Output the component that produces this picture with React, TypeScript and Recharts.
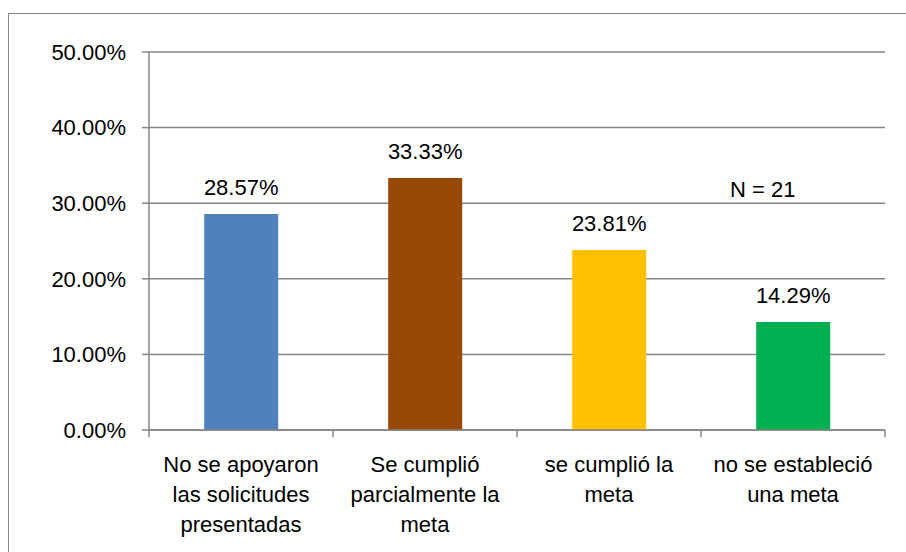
import { BarChart, Bar, XAxis, YAxis, CartesianGrid, Cell, LabelList } from 'recharts';

const categories = [
  ['No se apoyaron', 'las solicitudes', 'presentadas'],
  ['Se cumplió', 'parcialmente la', 'meta'],
  ['se cumplió la', 'meta'],
  ['no se estableció', 'una meta'],
];
const shares = [0.2857, 0.3333, 0.2381, 0.1429];
const barColors = ['#4F81BD', '#984807', '#FFC000', '#00B050'];
const yTicks = [0, 0.1, 0.2, 0.3, 0.4, 0.5];
const note = 'N = 21';

const W = 906;
const H = 552;
const margin = { top: 52, right: 21, left: 0, bottom: 22 };
const yAxisWidth = 149;
const axisColor = '#868686';
const font = '"Liberation Sans", Arial, sans-serif';

const data = categories.map((lines, i) => ({ name: lines.join(' '), lines, value: shares[i] }));
const band = (W - margin.left - yAxisWidth - margin.right) / categories.length;

const pct = (v: number) => `${(v * 100).toFixed(2)}%`;

const CategoryTick = (props: any) => {
  const { x, y, payload, index } = props;
  const lines: string[] = data[index]?.lines ?? [payload.value];
  return (
    <g>
      <line x1={x - band / 2} x2={x - band / 2} y1={y - 8} y2={y - 1} stroke={axisColor} strokeWidth={1.5} />
      {index === categories.length - 1 && (
        <line x1={x + band / 2} x2={x + band / 2} y1={y - 8} y2={y - 1} stroke={axisColor} strokeWidth={1.5} />
      )}
      <text x={x} y={y} textAnchor="middle" fill="#000" fontSize={22} fontFamily={font}>
        {lines.map((l, i) => (
          <tspan key={i} x={x} dy={i === 0 ? 34 : 30}>
            {l}
          </tspan>
        ))}
      </text>
    </g>
  );
};

export default function App() {
  return (
    <div style={{ position: 'absolute', left: 0, top: 0, width: W, height: H, overflow: 'hidden', background: '#fff' }}>
      <div
        style={{
          position: 'absolute',
          left: 8,
          top: 13,
          width: W,
          height: H,
          border: `1.5px solid ${axisColor}`,
        }}
      />
      <div style={{ position: 'absolute', left: 0, top: 0 }}>
        <BarChart width={W} height={H} data={data} margin={margin} barCategoryGap="30%">
          <CartesianGrid horizontal vertical={false} stroke={axisColor} strokeWidth={1.5} />
          <XAxis
            dataKey="name"
            interval={0}
            height={100}
            axisLine={{ stroke: axisColor, strokeWidth: 1.5 }}
            tickLine={false}
            tick={<CategoryTick />}
          />
          <YAxis
            width={yAxisWidth}
            domain={[0, 0.5]}
            ticks={yTicks}
            tickFormatter={pct}
            axisLine={{ stroke: axisColor, strokeWidth: 1.5 }}
            tickLine={{ stroke: axisColor, strokeWidth: 1.5 }}
            tickSize={7}
            tickMargin={16}
            tick={{ fill: '#000', fontSize: 22, fontFamily: font }}
          />
          <Bar dataKey="value" isAnimationActive={false}>
            {data.map((d, i) => (
              <Cell key={d.name} fill={barColors[i]} />
            ))}
            <LabelList
              dataKey="value"
              position="top"
              offset={19}
              formatter={(v: any) => pct(Number(v))}
              style={{ fill: '#000', fontSize: 22, fontFamily: font }}
            />
          </Bar>
        </BarChart>
      </div>
      <div
        style={{
          position: 'absolute',
          left: 730,
          top: 179,
          fontSize: 22,
          lineHeight: '22px',
          fontFamily: font,
          color: '#000',
          whiteSpace: 'nowrap',
        }}
      >
        {note}
      </div>
    </div>
  );
}
